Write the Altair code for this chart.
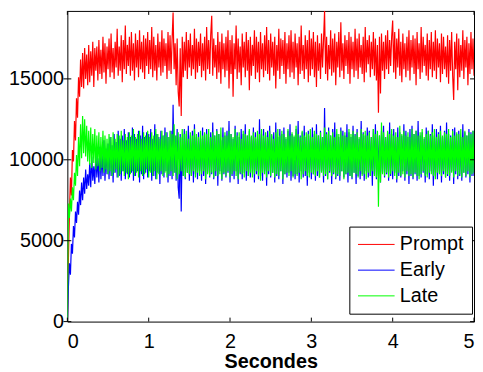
import altair as alt
import pandas as pd

TIME_STEP = 0.0125  # seconds between samples

PROMPT = [
    0,
    3800, 6500, 8900, 7800, 10600, 9900, 12400, 11200, 13800, 12600, 15100, 13900, 16200, 14500, 16600, 14400, 16900, 15000, 16500, 14600,
    17100, 14800, 16700, 15200, 17300, 14500, 16900, 15500, 17000, 14900, 17400, 15300, 16800, 15000, 17600, 15400, 17200, 14700, 17000, 15600,
    17500, 15100, 17800, 15400, 16900, 15000, 17300, 15700, 18100, 15200, 17000, 15500, 17700, 14800, 17400, 15600, 18300, 15300, 17100, 15800,
    17600, 15200, 17900, 15500, 17200, 14900, 17800, 15700, 17400, 15100, 18000, 15600, 17300, 15400, 17700, 15000, 17500, 15800, 17900, 15300,
    17400, 15600, 18200, 15100, 17600, 15500, 17100, 14900, 17800, 15700, 17300, 15200, 18000, 15400, 17500, 15800, 17200, 15000, 17900, 15500,
    17700, 15300, 17400, 19100, 15600, 17200, 14600, 17500, 14200, 13300, 16900, 12700, 17600, 15100, 17300, 15500, 17900, 15000, 17400, 15700,
    17800, 15200, 17100, 15600, 18100, 15000, 17500, 15400, 17300, 15800, 17800, 15100, 17200, 15500, 17600, 14900, 18200, 15600, 17400, 15300,
    17700, 18900, 15200, 17500, 15700, 17100, 15000, 17900, 15400, 17300, 14700, 17800, 15600, 17200, 15100, 17600, 15500, 18000, 14400, 17400,
    15300, 17700, 13900, 17200, 15600, 18300, 15000, 17500, 15400, 17000, 14600, 17800, 15700, 17300, 15100, 17900, 15500, 17400, 14300, 17600,
    15200, 17100, 15800, 18000, 15000, 17600, 15400, 17300, 14800, 17900, 15600, 17200, 15100, 17700, 15500, 18200, 15300, 17400, 14900, 17800,
    15700, 17300, 15200, 17600, 14400, 17100, 15500, 18100, 15000, 17500, 15800, 17400, 15300, 17900, 14700, 17200, 15600, 17700, 15100, 18000,
    15400, 17300, 15000, 17800, 15700, 17200, 14600, 17600, 15300, 18300, 15500, 17100, 15000, 17700, 15600, 17400, 14800, 18000, 15200, 17500,
    15600, 17900, 15100, 17300, 14500, 17700, 15500, 17200, 15000, 17800, 15700, 17400, 19200, 15300, 17600, 14900, 17100, 15600, 18000, 15200,
    17500, 15400, 17800, 14600, 17300, 15700, 17900, 15100, 18500, 15500, 17200, 15000, 17700, 15800, 17400, 15300, 17900, 14700, 17600, 15600,
    17300, 15100, 18100, 15500, 17500, 15000, 17800, 15700, 17100, 15300, 17600, 14800, 18200, 15400, 17400, 15900, 17700, 15100, 17300, 15600,
    17900, 15200, 17500, 14900, 17100, 12900, 17600, 14100, 17800, 15500, 17300, 15000, 17700, 15600, 18000, 15300, 17400, 15800, 17600, 18600,
    15400, 17900, 15000, 17500, 15700, 18100, 15200, 17300, 14800, 17800, 15600, 17200, 15100, 17600, 15500, 18000, 14900, 17400, 15700, 17700,
    15300, 17500, 14600, 17900, 15600, 17200, 15000, 18200, 15400, 17600, 15800, 17100, 15200, 17800, 14900, 17400, 15600, 17900, 15100, 17300,
    15500, 18000, 15000, 17500, 15700, 17200, 14800, 17800, 15300, 17600, 15600, 17000, 15100, 17700, 14700, 17400, 15500, 17900, 15200, 13700,
    17300, 15600, 17800, 14300, 17500, 15100, 17100, 15500, 18000, 15000, 17400, 15700, 17600, 14600, 17200, 15300, 17900, 15600, 17500, 15200,
]

EARLY = [
    0,
    2100, 3600, 2900, 4800, 4200, 5900, 5200, 6800, 6100, 7400, 6600, 8100, 7200, 8600, 7500, 8900, 7900, 9400, 8200, 9100,
    8400, 9800, 8300, 10200, 8700, 9600, 8500, 10500, 8900, 10100, 8600, 10800, 8800, 10400, 9000, 11200, 8700, 10700, 9100, 11000,
    8800, 11400, 9000, 10900, 8600, 11600, 9200, 11100, 8900, 11800, 9000, 11300, 8700, 11500, 9300, 11900, 8800, 11200, 9100, 11700,
    8900, 11400, 9200, 12000, 8700, 11600, 9000, 11300, 9300, 11800, 8600, 11500, 9100, 12100, 8800, 11400, 9200, 11700, 8900, 11600,
    9300, 11900, 8700, 11300, 9000, 12200, 8800, 11600, 9200, 11400, 8500, 11800, 9100, 11500, 8900, 12000, 9300, 11700, 8600, 11400,
    9000, 11800, 8800, 13400, 9200, 11500, 8700, 11900, 8300, 7600, 11600, 6800, 11400, 9000, 11900, 8800, 11600, 9200, 12100, 8700,
    11500, 9000, 11800, 8600, 12200, 9100, 11400, 8800, 11700, 9300, 11300, 8700, 12000, 9000, 11600, 8500, 11900, 9200, 11400, 8900,
    11700, 9100, 12300, 8800, 11500, 9000, 11900, 8400, 11600, 9300, 11200, 8700, 12000, 9100, 11500, 8900, 11800, 9200, 12400, 8600,
    11600, 9000, 11300, 8800, 12100, 9300, 11700, 8500, 11400, 9100, 11900, 8800, 11600, 9200, 12200, 8700, 11500, 9000, 11800, 8900,
    11400, 9200, 12000, 8600, 11700, 9100, 11300, 8800, 12500, 9000, 11600, 8700, 11900, 9300, 11500, 8400, 11800, 9100, 12100, 8900,
    11500, 9200, 11700, 8600, 12300, 9000, 11400, 8800, 11900, 9300, 11600, 8500, 12000, 9100, 11300, 8900, 11800, 9200, 12200, 8700,
    11600, 9000, 11400, 8800, 11900, 9100, 12400, 8600, 11500, 9300, 11700, 8900, 12100, 9000, 11400, 8400, 11800, 9200, 11500, 8800,
    12000, 9100, 11600, 8700, 12200, 9000, 11500, 8900, 11800, 9300, 11400, 8600, 13200, 9000, 11700, 8800, 12000, 9200, 11500, 8500,
    11900, 9100, 12300, 8800, 11600, 9000, 11400, 8700, 12000, 9300, 11800, 8900, 11500, 9100, 12200, 8600, 11700, 9000, 11400, 8800,
    12100, 9200, 11600, 8500, 11900, 9000, 11300, 8800, 12400, 9100, 11700, 8700, 11500, 9300, 12000, 8900, 11800, 9000, 11400, 8400,
    11900, 9100, 12200, 8800, 11600, 9000, 11500, 8600, 11800, 9200, 12100, 8900, 11400, 9100, 11700, 8700, 12300, 9000, 11600, 8800,
    11900, 9200, 11400, 8600, 12000, 9000, 11700, 8900, 11500, 9300, 12200, 8700, 11800, 9100, 11400, 8500, 11900, 9000, 12100, 8800,
    11600, 9100, 11800, 8700, 12400, 9000, 11500, 8900, 11700, 9200, 11300, 8600, 12000, 9100, 11800, 8800, 11600, 9300, 12200, 8400,
    11500, 9000, 11900, 8800, 11700, 9200, 12100, 8600, 11400, 9100, 11800, 8900, 12300, 9000, 11600, 8700, 11500, 9300, 11900, 8500,
    12000, 9100, 11600, 8800, 11800, 9000, 11400, 8700, 12200, 9200, 11700, 8900, 11500, 9100, 11900, 8600, 11700, 9000, 11800, 9000,
]

LATE = [
    0,
    7300, 6400, 7600, 6800, 8300, 7500, 9200, 8400, 10300, 9000, 11400, 9600, 12200, 10100, 12700, 10400, 12500, 10200, 12100, 9900,
    11800, 9700, 12000, 9500, 11600, 9800, 11900, 9400, 11500, 9600, 11700, 9300, 11400, 9500, 11800, 9200, 11500, 9400, 11300, 9100,
    11600, 9300, 11400, 9000, 11700, 9200, 11300, 9400, 11600, 8900, 11500, 9100, 11800, 9300, 11200, 9000, 11600, 9200, 11400, 8800,
    11700, 9100, 11500, 9300, 11900, 9000, 11400, 9200, 11600, 8900, 11800, 9300, 11300, 9000, 11700, 9100, 11500, 9400, 11800, 8900,
    11400, 9200, 11700, 9000, 11500, 9300, 11900, 8800, 11600, 9100, 11300, 9300, 11800, 9000, 11500, 9200, 11700, 8900, 11400, 9100,
    11800, 9300, 11600, 9000, 12200, 9200, 11500, 8800, 11700, 9100, 11400, 9300, 11900, 9000, 11600, 8900, 11800, 9200, 11300, 9100,
    11700, 9000, 11500, 9300, 11900, 8900, 11600, 9200, 11400, 9000, 11800, 9100, 11500, 9300, 11700, 8800, 11600, 9100, 11900, 9000,
    11400, 9200, 11700, 8900, 11500, 9300, 11800, 9000, 11600, 9100, 12000, 8800, 11400, 9200, 11700, 9000, 11500, 9300, 11800, 8900,
    11600, 9100, 11400, 9300, 11900, 9000, 11500, 8800, 11700, 9200, 11300, 9100, 11800, 8900, 11600, 9300, 11500, 9000, 11900, 9200,
    11500, 8900, 11700, 9100, 11400, 9300, 11800, 9000, 11600, 8700, 11900, 9200, 11500, 9100, 11700, 8900, 11400, 9300, 11800, 9000,
    11600, 9200, 11300, 8900, 11700, 9100, 11900, 9000, 11500, 9300, 11800, 8800, 11600, 9100, 11400, 9200, 11900, 9000, 11500, 9300,
    11700, 8900, 11500, 9100, 12100, 9000, 11600, 9200, 11400, 8800, 11800, 9100, 11500, 9300, 11700, 9000, 11600, 8900, 11900, 9200,
    11400, 9100, 11800, 9000, 11600, 9300, 11500, 8900, 11700, 9200, 11400, 9000, 12000, 9100, 11600, 8800, 11800, 9300, 11500, 9000,
    11700, 9200, 11400, 8900, 11900, 9100, 11600, 9000, 11800, 9300, 11500, 8800, 11700, 9100, 11400, 9200, 11900, 9000, 11600, 8900,
    11800, 9200, 11500, 9100, 11700, 8900, 11400, 9300, 11900, 9000, 11600, 9100, 11800, 8800, 11500, 9200, 11700, 9000, 11400, 9300,
    11900, 9000, 11600, 8900, 11800, 7100, 11500, 8600, 12300, 9100, 11700, 9000, 11400, 9200, 11800, 8900, 11600, 9100, 11900, 9300,
    11500, 9000, 11700, 8800, 11400, 9200, 12100, 9000, 11600, 9100, 11800, 8900, 11500, 9300, 11700, 9000, 11400, 9100, 11900, 8900,
    11600, 9200, 11800, 9000, 11500, 8800, 11700, 9100, 11900, 9300, 11400, 9000, 11600, 8900, 11800, 9200, 11500, 9100, 11700, 9000,
    11900, 8800, 11400, 9200, 11600, 9100, 11800, 9000, 11500, 9300, 11700, 8900, 11600, 9100, 11900, 9000, 11400, 9200, 11800, 8900,
    11500, 9300, 11700, 9000, 11600, 9100, 11900, 8900, 11400, 9200, 11800, 9000, 11500, 9300, 11700, 8900, 11600, 9100, 11800, 9200,
]

SERIES = ["Prompt", "Early", "Late"]
COLORS = ["#ff0000", "#0000ff", "#00ff00"]
X_TICKS = [0, 1, 2, 3, 4, 5]
Y_TICKS = [0, 5000, 10000, 15000]
X_TITLE = "Secondes"

FONT = "Liberation Sans"
FS = 20
W, H = 411, 314
TL = 4  # tick length

rows = []
for name, vals in zip(SERIES, [PROMPT, EARLY, LATE]):
    for i, v in enumerate(vals):
        rows.append({"t": round(i * TIME_STEP, 4), "v": v, "series": name})
df = pd.DataFrame(rows)

xs = alt.Scale(domain=[0, 5], nice=False, zero=False)
ys = alt.Scale(domain=[0, 19200], nice=False, zero=False)

color = alt.Color(
    "series:N",
    scale=alt.Scale(domain=SERIES, range=COLORS),
    legend=alt.Legend(
        title=None, orient="none", legendX=285, legendY=218,
        symbolType="M-1,0H3", symbolSize=342, symbolStrokeWidth=1,
        symbolFillColor="transparent",
        labelFont=FONT, labelFontSize=FS, labelColor="black", labelOffset=23,
        strokeColor="black", fillColor="white", padding=8, rowPadding=6,
        cornerRadius=0,
    ),
)

x_axis = alt.Axis(values=X_TICKS, ticks=False, domain=False, grid=False,
                  labelFont=FONT, labelFontSize=FS, labelColor="black",
                  labelPadding=10, title=X_TITLE, titleFont=FONT, titleFontSize=FS,
                  titleFontWeight="bold", titleColor="black", titlePadding=0)
y_axis = alt.Axis(values=Y_TICKS, ticks=False, domain=False, grid=False, format="d",
                  labelFont=FONT, labelFontSize=FS, labelColor="black",
                  labelPadding=4, title=None)

X = alt.X("t:Q", scale=xs, axis=x_axis)
Y = alt.Y("v:Q", scale=ys, axis=y_axis)

layers = []
for name in SERIES:
    layers.append(
        alt.Chart(df).transform_filter(alt.datum.series == name)
        .mark_line(strokeWidth=1.2, clip=True)
        .encode(x=X, y=Y, color=color)
    )

xt = pd.DataFrame({"t": X_TICKS})
yt = pd.DataFrame({"v": Y_TICKS})
tick_bottom = alt.Chart(xt).mark_rule(color="black").encode(
    x=X, y=alt.value(H - TL), y2=alt.value(H))
tick_top = alt.Chart(xt).mark_rule(color="black").encode(
    x=X, y=alt.value(0), y2=alt.value(TL))
tick_left = alt.Chart(yt).mark_rule(color="black").encode(
    y=Y, x=alt.value(-TL), x2=alt.value(TL))
tick_right = alt.Chart(yt).mark_rule(color="black").encode(
    y=Y, x=alt.value(W - TL), x2=alt.value(W))

chart = alt.layer(*layers, tick_bottom, tick_top, tick_left, tick_right).properties(
    width=W, height=H, padding=0, background="white"
).configure_view(stroke="black", strokeWidth=1)

chart.save("out.html", embed_options={"renderer": "svg", "actions": False})
